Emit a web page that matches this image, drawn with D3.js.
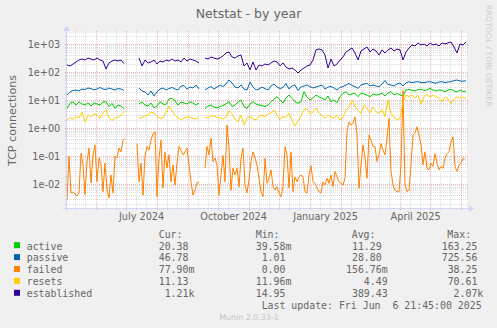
<!DOCTYPE html>
<html><head><meta charset="utf-8">
<script src="https://cdn.jsdelivr.net/npm/d3@7/dist/d3.min.js"></script>
<style>
html,body{margin:0;padding:0;background:#F0F0F0;}
svg{display:block;}
text{white-space:pre;}
</style></head><body>
<svg id="chart" width="497" height="328"></svg>
<script>
// ---------------- data ----------------
const seriesNames  = ["active","passive","failed","resets","established"];
const seriesColors = ["#00CC00","#0066B3","#FF8000","#FFCC00","#330099"];
const DAY = 86400000;
const endTime = Date.UTC(2025,5,6,21,45);
const startTime = endTime - 400*DAY;
const stepDays = 3;        // sample spacing for active / passive / resets / established
const failedStepDays = 2;  // sample spacing for failed

const active = [5.0,7.6,8.7,6.6,8.5,7.2,6.6,7.8,6.1,8.0,7.2,6.6,8.5,8.7,5.8,7.6,5.0,6.6,6.1,4.8,
 null,null,null,null,
 7.2,8.5,6.6,6.1,7.8,5.2,6.1,8.7,7.2,6.9,10.9,11.5,9.4,6.6,8.5,7.8,7.2,8.7,7.8,6.6,7.8,
 null,
 5.0,6.1,6.6,5.6,5.2,5.8,6.4,7.2,8.7,5.8,
 6.6,8.5,10,5.8,5.0,7.2,8.7,7.2,6.6,6.4,
 5.8,6.6,8.5,10.9,13.1,10,7.8,11.8,15.1,11.5,
 8.5,7.6,8.7,19.8,12.8,10,11.8,15.1,12.8,11.5,
 10,13.9,8.7,10,8,13.1,17.5,19.8,15.1,16.4,
 17.5,13.1,17.5,16.4,15.1,13.1,16.4,15.1,15.7,17.5,
 13.9,17.8,19.8,15.1,17.1,15.1,13.9,22.8,24.1,21.9,
 21,23.7,24.1,21.9,22.8,26.2,22.8,21,22.8,21.9,
 19.8,22.8,24.1,21,19.3,22.8,20.2,20.5];

const passive = [15.1,19.3,21.9,22.8,21,24.7,23.7,26.8,25.7,22.8,24.7,28,24.7,23.7,26.8,24.7,22.8,25.7,24.7,21.9,
 null,null,null,null,
 26.8,21,19.3,15.1,21,13.9,19.3,24.7,26.8,22.8,25.7,28,24.7,22.8,31.6,32.9,24.7,29.1,26.8,34.3,24.7,
 null,
 22.8,26.8,30.3,24.7,29.1,34.3,30.3,37.3,51.8,40.5,
 29.1,26.8,34.3,24.7,22.8,43.9,29.1,22.8,24.7,29.1,
 25.7,22.8,31.6,37.3,29.1,25.7,28,38.9,24.7,31.6,
 34.3,21.9,29.1,31.6,34.3,30.3,26.8,29.1,31.6,34.3,
 24.7,29.1,30.3,26.8,22.8,28,30.3,34.3,38.9,32.9,
 30.3,25.7,34.3,37.3,38.9,31.6,34.3,31.6,29.8,37.3,
 49.7,35.8,34.3,31.6,37.3,40.5,31.6,40.5,45,41.8,
 43.9,45,42.1,41.8,43.9,45,42.1,39.5,43.9,45,
 41.8,43.9,45,49.7,51.8,47.7,46.6,48.5];

const failed = [0.0027,0.1,0.0048,0.0052,0.0044,0.0037,0.0048,0.124,0.048,0.0042,
 0.061,0.19,0.011,0.11,0.25,0.012,0.085,0.048,0.0053,0.056,
 0.0061,0.0032,0.021,0.0048,0.1,0.085,0.19,0.14,0.37,0.43,
 null,null,null,null,null,
 0.28,0.012,0.056,0.004,0.1,0.22,0.16,0.37,0.62,0.74,
 0.0035,0.083,0.37,0.0072,0.14,0.037,0.11,0.012,0.048,0.0092,
 0.056,0.22,0.16,0.11,0.14,0.19,0.048,0.012,0.004,0.0061,
 0.011,0.012,
 null,null,
 0.037,0.22,0.11,0.43,0.064,0.085,0.048,0.004,0.021,0.105,
 0.012,1.28,0.19,0.006,0.037,0.021,0.037,0.008,0.085,0.19,
 0.0092,0.0048,0.014,0.064,0.14,0.085,0.048,0.016,0.0053,0.0035,
 0.083,0.0106,0.016,0.032,0.008,0.0061,0.008,0.0048,0.0035,0.008,
 0.22,0.11,0.0072,0.14,0.0053,0.018,0.012,0.018,0.021,0.018,
 0.0053,0.0048,0.021,0.045,0.012,0.0106,0.0072,0.0053,0.0048,0.012,
 0.0092,0.016,0.0106,0.021,0.008,
 0.028,0.018,0.012,0.0106,0.0092,0.016,0.74,1.67,1.28,1.47,
 2.5,0.56,0.007,0.048,0.25,0.083,0.016,0.56,0.37,0.22,
 0.22,0.064,0.11,0.28,0.16,0.11,0.43,2.2,0.028,0.0092,
 0.0061,0.0053,0.0053,0.048,22,0.0092,0.0053,0.0061,0.048,0.56,
 0.65,1.1,0.56,0.25,0.048,0.14,0.036,0.032,0.055,0.042,
 0.12,0.055,0.032,0.042,0.036,0.083,0.12,0.14,0.31,0.48,
 0.042,0.028,0.048,0.055,0.083,0.078];

const resets = [1.93,2.4,2.05,2.55,2.3,3.7,1.68,2.9,2.5,3.2,2.9,2.25,3.5,4.4,2.25,1.82,2.25,2.4,2.9,3.8,
 null,null,null,null,
 2.1,2.4,2.7,2.9,3.7,3.4,2.5,2.2,2.3,3.7,6.1,4.05,2.9,2.3,1.93,2.3,2.5,2.4,2.2,2.1,2.4,
 null,
 2.4,2.3,2.7,2.7,2.4,2.3,2.1,2.5,4.05,3.2,
 2.1,1.68,2.9,1.28,2.3,2.55,2.1,1.93,2.7,2.9,
 2.5,3.2,3.5,4.4,2.9,2.1,2.5,2.4,3.3,1.93,
 1.18,1.82,2.7,4.4,5.0,3.2,3.7,5.2,3.4,2.7,
 2.3,2.9,2.5,2.25,2.9,1.93,2.4,4.4,5.5,10,
 5.8,4.4,3.3,6.6,5.0,3.5,5.5,3.8,3.3,4.6,
 2.55,10,3.3,2.4,1.93,2.25,8,15.1,13.1,15.1,
 11.8,15.1,7.2,13.1,16,12.8,15.1,13.1,11.5,8.7,
 12.8,10.9,7.6,10.9,13.1,11.5,12.8,11.1];

const established = [178,164,193,228,268,291,268,316,291,268,316,268,247,128,210,247,268,247,268,200,
 null,null,null,null,
 316,164,268,210,228,268,193,247,228,268,247,291,247,268,228,316,247,291,268,247,210,
 null,
 316,291,343,316,291,316,373,477,518,343,
 316,373,405,164,210,118,228,118,178,164,
 193,178,210,247,228,164,210,151,128,139,
 118,92,118,139,164,178,268,610,663,610,
 405,139,291,164,193,268,343,518,610,720,
 477,268,562,663,781,518,663,562,405,610,
 477,610,720,562,663,610,268,518,720,921,
 848,1090,921,1000,848,1090,921,1000,848,1090,
 1000,1090,1180,781,477,1000,921,1180];

const yDomain = [0.00139, 2470];
const yTickValues = [1e-2,1e-1,1,1e1,1e2,1e3];
const yTickLabels = ["1e-02","1e-01","1e+00","1e+01","1e+02","1e+03"];
const xLabelDates = [Date.UTC(2024,6,16),Date.UTC(2024,9,16),Date.UTC(2025,0,16),Date.UTC(2025,3,16)];
const xLabels = ["July 2024","October 2024","January 2025","April 2025"];

const titleText = "Netstat - by year";
const unitText = "TCP connections";
const legendHeader = ["Cur:","Min:","Avg:","Max:"];
const legendCur = ["20.38","46.78","77.90m","11.13"," 1.21k"];
const legendMin = ["39.58m"," 1.01"," 0.00","11.96m","14.95"];
const legendAvg = [" 11.29"," 28.80","156.76m","   4.49"," 389.43"];
const legendMax = ["163.25","725.56"," 38.25"," 70.61","  2.07k"];
const lastUpdate = "Last update: Fri Jun  6 21:45:00 2025";
const watermark = "Munin 2.0.33-1";
const rrdCredit = "RRDTOOL / TOBI OETIKER";

// ---------------- drawing ----------------
const W = 497, H = 328;
const X0 = 67, XS = 400, Y0 = 208, YS = 175, Y1 = Y0 - YS;
const FONT = "#666666";
const svg = d3.select("#chart");
svg.append("rect").attr("width", W).attr("height", H).attr("fill", "#F0F0F0");
svg.append("rect").attr("x", X0).attr("y", Y1).attr("width", XS).attr("height", YS).attr("fill", "#FFFFFF");

const x = d3.scaleUtc().domain([startTime, endTime]).range([X0, X0 + XS]);
const y = d3.scaleLog().domain(yDomain).range([Y0, Y1]);
const px = v => Math.round(v) + 0.5;

const GRID = "rgba(143,143,143,0.30)";
const MGRID = "rgba(222,79,79,0.42)";
const grid = svg.append("g");

// horizontal grid
const minorY = [];
for (let d = -3; d <= 3; d++) for (let k = 2; k <= 9; k++) {
  const v = k * Math.pow(10, d);
  if (v > yDomain[0] && v < yDomain[1]) minorY.push(v);
}
minorY.forEach(v => {
  const yy = px(y(v));
  grid.append("line").attr("x1", X0 - 2).attr("x2", X0 + XS + 2).attr("y1", yy).attr("y2", yy)
    .attr("stroke", GRID).attr("stroke-dasharray", "1,1");
});
yTickValues.forEach(v => {
  const yy = px(y(v));
  grid.append("line").attr("x1", X0 - 2).attr("x2", X0 + XS + 2).attr("y1", yy).attr("y2", yy)
    .attr("stroke", MGRID).attr("stroke-dasharray", "1,1");
});

// vertical grid
const majorX = [], minorX = [];
for (let m = 4; m <= 18; m++) {
  const yr = 2024 + Math.floor(m / 12), mo = m % 12;
  [1, 11, 21].forEach(day => {
    const t = Date.UTC(yr, mo, day);
    if (t > startTime && t < endTime) (day === 1 ? majorX : minorX).push(t);
  });
}
minorX.forEach(t => {
  const xx = px(x(t));
  grid.append("line").attr("x1", xx).attr("x2", xx).attr("y1", Y1 - 2).attr("y2", Y0 + 2)
    .attr("stroke", GRID).attr("stroke-dasharray", "1,1");
});
majorX.forEach(t => {
  const xx = px(x(t));
  grid.append("line").attr("x1", xx).attr("x2", xx).attr("y1", Y1 - 2).attr("y2", Y0 + 3)
    .attr("stroke", MGRID).attr("stroke-dasharray", "1,1");
});

// axes lines + arrows
const AX = "#CFD6F8";
svg.append("line").attr("x1", X0 - 4).attr("x2", X0 + XS + 4).attr("y1", Y0 + 0.5).attr("y2", Y0 + 0.5).attr("stroke", AX);
svg.append("line").attr("x1", X0 - 0.5).attr("x2", X0 - 0.5).attr("y1", Y0 + 4).attr("y2", Y1 - 4).attr("stroke", AX);
svg.append("polygon").attr("fill", AX)
  .attr("points", `${X0+XS+2},${Y0-3} ${X0+XS+2},${Y0+4} ${X0+XS+7.5},${Y0+0.5}`);
svg.append("polygon").attr("fill", AX)
  .attr("points", `${X0-4},${Y1-2} ${X0+3},${Y1-2} ${X0-0.5},${Y1-7.5}`);

// y axis labels
const yAxis = svg.append("g").attr("transform", `translate(${X0},0)`)
  .call(d3.axisLeft(y).tickValues(yTickValues).tickFormat((d, i) => yTickLabels[i]).tickSize(0).tickPadding(6.7));
yAxis.select(".domain").remove();
yAxis.attr("font-family", "DejaVu Sans").attr("font-size", 9.72);
yAxis.selectAll("text").attr("fill", FONT);

// x axis labels
const xAxis = svg.append("g").attr("transform", `translate(0,${Y0})`)
  .call(d3.axisBottom(x).tickValues(xLabelDates).tickFormat((d, i) => xLabels[i]).tickSize(0).tickPadding(5.3));
xAxis.select(".domain").remove();
xAxis.attr("font-family", "DejaVu Sans").attr("font-size", 9.72);
xAxis.selectAll("text").attr("fill", FONT);

// series
svg.append("clipPath").attr("id", "cv").append("rect")
  .attr("x", X0).attr("y", Y1).attr("width", XS + 1).attr("height", YS + 1);
const plot = svg.append("g").attr("clip-path", "url(#cv)");
const seriesData = [active, passive, failed, resets, established];
const seriesStep = [stepDays, stepDays, failedStepDays, stepDays, stepDays];
const line = d3.line().defined(d => d.v != null && d.v > 0).x(d => x(d.t)).y(d => y(d.v));
seriesData.forEach((arr, s) => {
  const pts = arr.map((v, i) => ({ t: startTime + i * seriesStep[s] * DAY, v }));
  plot.append("path").attr("d", line(pts)).attr("fill", "none")
    .attr("stroke", seriesColors[s]).attr("stroke-width", 1).attr("stroke-linejoin", "round");
});

// title, unit, credits
svg.append("text").attr("x", 248.5).attr("y", 18.3).attr("text-anchor", "middle")
  .attr("font-family", "DejaVu Sans").attr("font-size", 12.5).attr("fill", FONT).text(titleText);
svg.append("text").attr("transform", "translate(15.5,120.5) rotate(-90)").attr("text-anchor", "middle")
  .attr("font-family", "DejaVu Sans").attr("font-size", 11.1).attr("fill", FONT).text(unitText);
svg.append("text").attr("transform", "translate(486,5) rotate(90)").attr("text-anchor", "start")
  .attr("font-family", "DejaVu Sans").attr("font-size", 7.9).attr("fill", "#CCCCCC").text(rrdCredit);
svg.append("text").attr("x", 249).attr("y", 319.5).attr("text-anchor", "middle")
  .attr("font-family", "DejaVu Sans").attr("font-size", 7.9).attr("fill", "#C4C4C4").text(watermark);

// legend
const lg = svg.append("g").attr("font-family", "DejaVu Sans Mono").attr("font-size", 9.9).attr("fill", FONT);
const colX = [158.7, 255.7, 346, 441.7];
const headX = [158.7, 255.7, 351.7, 447.3];
legendHeader.forEach((h, j) => lg.append("text").attr("x", headX[j]).attr("y", 237.6).text(h));
seriesNames.forEach((n, i) => {
  const by = 249.5 + 11.9 * i;
  lg.append("rect").attr("x", 14).attr("y", by - 7.3).attr("width", 6).attr("height", 6).attr("fill", seriesColors[i]);
  lg.append("text").attr("x", 26.7).attr("y", by).text(n);
  [legendCur, legendMin, legendAvg, legendMax].forEach((col, j) =>
    lg.append("text").attr("x", colX[j]).attr("y", by).text(col[i]));
});
lg.append("text").attr("x", 255.7).attr("y", 249.5 + 11.9 * 5).text(" " + lastUpdate);
</script>
</body></html>
